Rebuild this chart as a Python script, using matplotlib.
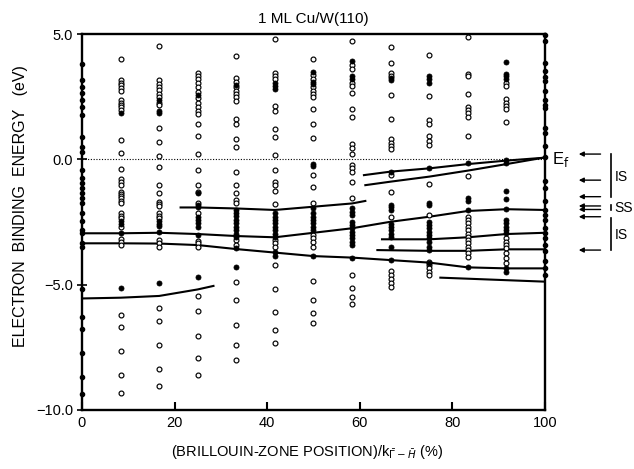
import matplotlib.pyplot as plt
import numpy as np

plt.rcParams['font.family'] = ['Liberation Sans', 'DejaVu Sans']

# brillouin-zone positions of the measured spectra (percent)
k_cols = [0, 8.33, 16.67, 25, 33.33, 41.67, 50, 58.33, 66.67, 75, 83.33, 91.67, 100]

# binding energies (eV) read per column, open = weak peaks, full = strong peaks
full_k00 = [3.79, 3.16, 2.87, 2.63, 2.37, 2.10, 1.77, 0.90, 0.50, 0.30, -0.43, -0.76, -0.96, -1.16,
            -1.36, -1.56, -1.76, -2.15, -2.48, -2.82, -2.95, -3.35, -3.48, -5.19, -6.30, -6.77,
            -7.71, -8.67, -9.37]

open_k08 = [4.01, 3.16, 3.05, 2.95, 2.84, 2.74, 2.36, 2.25, 2.15, 2.07, 1.96, 0.77, 0.24, -0.40,
            -0.80, -0.92, -1.03, -1.29, -1.38, -1.47, -1.56, -1.66, -1.76, -2.16, -2.26, -2.36,
            -2.68, -3.19, -3.29, -3.42, -6.21, -6.68, -7.63, -8.60, -9.31]
full_k08 = [1.86, -2.48, -2.58, -2.95, -5.12]

open_k17 = [4.54, 3.16, 3.00, 2.87, 2.76, 2.61, 2.47, 2.26, 2.15, 1.24, 0.70, 0.14, -0.29, -1.03,
            -1.36, -1.69, -1.78, -1.86, -2.16, -2.26, -2.36, -3.22, -3.35, -3.51, -5.92, -6.44,
            -7.41, -8.35, -9.03]
full_k17 = [2.37, 1.93, 1.86, -2.46, -2.56, -2.66, -2.89, -4.95]

open_k25 = [3.45, 3.32, 3.19, 3.03, 2.87, 2.70, 2.43, 2.23, 2.10, 1.93, 1.79, 1.40, 0.93, 0.20,
            -0.43, -1.03, -1.29, -1.73, -2.16, -3.25, -3.35, -3.49, -5.47, -6.05, -7.05, -7.94,
            -8.60]
full_k25 = [2.56, -1.36, -1.82, -1.92, -2.29, -2.42, -2.55, -2.69, -3.02, -4.68]

open_k33 = [4.12, 3.23, 3.10, 2.87, 2.74, 2.60, 2.47, 2.34, 1.59, 1.40, 0.80, 0.48, -0.49, -1.03,
            -1.33, -1.62, -1.73, -3.22, -3.42, -4.88, -5.61, -6.61, -7.41, -8.01]
full_k33 = [2.96, -2.02, -2.15, -2.28, -2.42, -2.55, -2.69, -2.82, -2.96, -3.09, -3.55, -4.28]

open_k42 = [4.79, 3.45, 3.32, 3.19, 2.12, 1.94, 1.20, 0.90, 0.18, -0.43, -0.89, -1.03, -1.25,
            -1.80, -3.22, -3.35, -3.49, -4.23, -5.17, -6.09, -6.80, -7.31]
full_k42 = [3.06, 2.92, 2.79, -2.16, -2.29, -2.42, -2.55, -2.69, -2.82, -2.96, -3.09, -3.69, -3.86]

open_k50 = [4.01, 3.36, 3.22, 2.87, 2.74, 2.60, 2.47, 1.99, 1.40, 0.86, -0.63, -1.09, -1.76,
            -3.02, -3.15, -3.29, -3.49, -4.84, -5.60, -6.14, -6.54]
full_k50 = [3.50, 3.10, 3.00, -0.19, -0.27, -1.96, -2.16, -2.29, -2.42, -2.55, -2.69, -2.82, -3.86]

open_k58 = [4.72, 3.76, 3.62, 3.05, 2.92, 2.66, 2.00, 1.70, 0.61, 0.44, 0.21, -0.23, -0.36,
            -0.49, -0.92, -1.56, -4.62, -5.15, -5.48, -5.79]
full_k58 = [3.92, 3.32, 3.22, -1.96, -2.09, -2.22, -2.49, -2.62, -2.75, -2.89, -3.02, -3.15,
            -3.29, -3.42, -3.92]

open_k67 = [4.49, 3.85, 3.45, 3.31, 2.56, 1.59, 0.80, 0.67, 0.53, 0.40, -0.63, -1.29, -2.29,
            -4.46, -4.62, -4.78, -4.92, -5.11]
full_k67 = [3.24, 3.17, -0.49, -1.82, -1.92, -2.02, -2.56, -2.69, -2.82, -2.96, -3.09, -3.49,
            -4.02]

open_k75 = [4.16, 2.52, 1.56, 1.41, 0.93, 0.74, 0.57, -1.00, -2.22, -4.08, -4.22, -4.35, -4.50,
            -4.61]
full_k75 = [3.32, 3.19, 3.05, -0.36, -1.73, -1.82, -2.49, -2.62, -2.75, -2.89, -3.02, -3.15,
            -3.29, -3.49, -3.62, -4.12]

open_k83 = [4.89, 3.42, 3.32, 2.59, 2.10, 1.97, 1.83, 1.70, 0.93, -0.67, -2.29, -2.42, -2.55,
            -2.69, -2.82, -2.96, -3.09, -3.22, -3.35, -3.49, -3.62, -3.75, -3.88]
full_k83 = [-0.16, -1.56, -1.65, -2.02, -4.30]

open_k92 = [3.05, 2.92, 2.39, 2.26, 2.12, 1.99, 1.50, -3.15, -3.29, -3.42, -3.55, -3.75, -3.95,
            -4.15]
full_k92 = [3.89, 3.42, 3.32, 3.22, -0.02, -0.13, -1.25, -1.60, -1.99, -2.42, -2.55, -2.69,
            -2.82, -2.95, -4.35, -4.48]

full_k100 = [4.97, 4.71, 3.84, 3.51, 3.27, 3.11, 2.74, 2.38, 2.18, 2.05, 1.25, 1.05, 0.52, 0.08,
             -0.88, -1.14, -1.68, -2.01, -2.21, -2.41, -2.74, -2.94, -3.14, -3.41, -3.67, -4.07,
             -4.34, -4.60]

# drawn band lines (k in %, E in eV)
band_a_k = k_cols
band_a_e = [-3.35, -3.35, -3.36, -3.42, -3.58, -3.72, -3.86, -3.92, -4.02, -4.12, -4.31, -4.35, -4.35]
band_b_k = k_cols
band_b_e = [-2.95, -2.95, -2.93, -2.98, -3.06, -3.11, -2.93, -2.75, -2.49, -2.29, -2.06, -1.99, -2.02]
band_c_k = [21.3, 25, 33.33, 41.67, 50, 58.33, 61.2]
band_c_e = [-1.92, -1.92, -1.96, -2.02, -1.89, -1.76, -1.66]
band_d_k = [60.9, 66.67, 75, 83.33, 91.67, 99.5]
band_d_e = [-0.63, -0.49, -0.36, -0.19, -0.05, 0.06]
band_e_k = [61.2, 66.67, 75, 83.33, 91.67, 99.5]
band_e_e = [-1.03, -0.89, -0.69, -0.45, -0.19, 0.06]
band_f_k = [64.8, 75, 83.33, 91.67, 100]
band_f_e = [-3.19, -3.19, -3.11, -2.98, -2.93]
band_g_k = [63.8, 75, 83.33, 91.67, 100]
band_g_e = [-3.62, -3.65, -3.65, -3.59, -3.59]
band_h_k = [77.4, 100]
band_h_e = [-4.72, -4.88]
band_i_k = [0, 8.33, 16.67, 25, 28.4]
band_i_e = [-5.55, -5.52, -5.45, -5.19, -5.05]

# arrows at the right and their group labels
arrow_e = [0.21, -0.83, -1.49, -1.86, -2.00, -2.29, -3.62]
group_labels = ['IS', 'SS', 'IS']
group_e = [-0.70, -1.93, -3.00]

open_cols = [open_k08, open_k17, open_k25, open_k33, open_k42, open_k50, open_k58,
             open_k67, open_k75, open_k83, open_k92]
full_cols = [full_k08, full_k17, full_k25, full_k33, full_k42, full_k50, full_k58,
             full_k67, full_k75, full_k83, full_k92]

fig = plt.figure(figsize=(6.34, 4.69), dpi=100)
ax = fig.add_axes([0.1293, 0.1258, 0.7303, 0.8017])

for k, ev in zip(k_cols[1:-1], open_cols):
    ax.plot(np.full(len(ev), k), ev, 'o', ms=3.5, mfc='white', mec='k', mew=0.85, zorder=3)
for k, ev in zip(k_cols[1:-1], full_cols):
    ax.plot(np.full(len(ev), k), ev, 'o', ms=3.6, mfc='k', mec='k', mew=0.6, zorder=4)
for k, ev in [(0, full_k00), (100, full_k100)]:
    ax.plot(np.full(len(ev), k), ev, 'o', ms=3.0, color='k', clip_on=False, zorder=5)

for bk, be in [(band_a_k, band_a_e), (band_b_k, band_b_e), (band_c_k, band_c_e),
               (band_d_k, band_d_e), (band_e_k, band_e_e), (band_f_k, band_f_e),
               (band_g_k, band_g_e), (band_h_k, band_h_e), (band_i_k, band_i_e)]:
    ax.plot(bk, be, '-', color='k', lw=1.5, zorder=2)

ax.axhline(0, color='k', lw=0.8, ls=(0, (1, 1.5)), zorder=1)

ax.set_xlim(0, 100)
ax.set_ylim(-10, 5)
ax.set_xticks([0, 20, 40, 60, 80, 100])
ax.set_yticks([5, 0, -5, -10])
ax.set_yticklabels(['5.0', '0.0', '\u22125.0', '\u221210.0'])
ax.tick_params(axis='x', direction='in', length=6, width=1.5, labelsize=10.5, pad=4)
ax.tick_params(axis='y', direction='inout', length=7, width=1.2, labelsize=10.5, pad=3)
for s in ax.spines.values():
    s.set_linewidth(1.7)

ax.set_title('1 ML Cu/W(110)', fontsize=11, pad=8)
fig.text(0.032, 0.56, 'ELECTRON  BINDING  ENERGY   (eV)', rotation=90, ha='center',
         va='center', fontsize=11.5)
fig.text(0.485, 0.037, r'(BRILLOUIN-ZONE POSITION)/k$_{\bar{\Gamma}-\bar{H}}$ (%)',
         ha='center', va='center', fontsize=10.5)

# Fermi level label and state markers on the right
ax.text(101.6, 0.0, r'E$_\mathrm{f}$', fontsize=12, ha='left', va='center', clip_on=False)
for e in arrow_e:
    ax.annotate('', xy=(107.3, e), xytext=(112.0, e), annotation_clip=False,
                arrowprops=dict(arrowstyle='-|>', lw=1.0, color='k', mutation_scale=7,
                                shrinkA=0, shrinkB=0))
ax.plot([114.2, 114.2], [0.21, -1.49], color='k', lw=1.2, clip_on=False)
ax.plot([114.2, 114.2], [-1.83, -2.03], color='k', lw=1.2, clip_on=False)
ax.plot([114.2, 114.2], [-2.33, -3.62], color='k', lw=1.2, clip_on=False)
for lab, e in zip(group_labels, group_e):
    ax.text(115.0, e, lab, fontsize=10, ha='left', va='center', clip_on=False)

fig.savefig('out.png', dpi=100)
